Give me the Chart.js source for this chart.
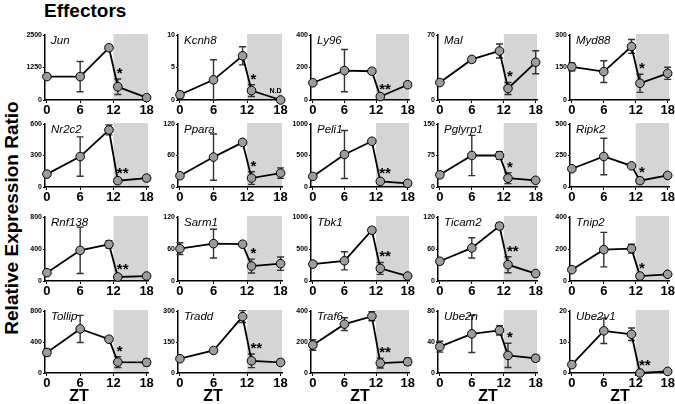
<!DOCTYPE html>
<html><head><meta charset="utf-8">
<script src="https://cdn.jsdelivr.net/npm/chart.js@4/dist/chart.umd.min.js"></script>
<style>
body{margin:0;width:675px;height:404px;position:relative;background:#fff;font-family:'Liberation Sans',Arial,sans-serif;overflow:hidden}
canvas{position:absolute}
.t{position:absolute;font-weight:bold;color:#000;white-space:nowrap;line-height:1}
</style></head><body>
<div class="t" style="left:44px;top:1px;font-size:19px">Effectors</div>
<div class="t" style="left:11px;top:218px;font-size:19px;transform:translate(-50%,-50%) rotate(-90deg)">Relative Expression Ratio</div>
<div id="root"></div>
<script>
// ---- data ----
const ZT = [0, 6, 11.2, 12.8, 18];
const X_TICKS = [0, 6, 12, 18];
const SHADE_FROM = 12;
const genes = ['Jun','Kcnh8','Ly96','Mal','Myd88',
               'Nr2c2','Ppara','Peli1','Pglyrp1','Ripk2',
               'Rnf138','Sarm1','Tbk1','Ticam2','Tnip2',
               'Tollip','Tradd','Traf6','Ube2n','Ube2v1'];
const meanValues = [
  [900, 900, 2010, 510, 90],
  [0.8, 3.1, 6.8, 1.45, 0],
  [106, 181, 177, 21, 94],
  [18.8, 43.7, 52.8, 12.4, 40.6],
  [153, 131, 247, 77, 123],
  [123, 290, 543, 60, 85],
  [21.5, 57, 85, 17, 26.5],
  [168, 516, 726, 89, 58],
  [29, 75, 75, 21, 16],
  [145, 242, 168, 50, 92],
  [104, 383, 458, 50, 62],
  [60.6, 70, 69, 28, 32.5],
  [264, 316, 793, 197, 78],
  [37, 62, 103, 30.6, 14],
  [71, 196, 202, 31, 42],
  [265, 569, 436, 141, 137],
  [69, 109, 273, 59, 51],
  [181, 315, 366, 64, 72],
  [34, 50.5, 55, 22.7, 19],
  [2.7, 13.6, 12.5, 0, 0.5]
];
const errValues = [
  [60, 580, 40, 300, 30],
  [0.5, 3.1, 1.4, 0.9, 0],
  [0, 130, 0, 0, 0],
  [0, 3, 7.5, 6.5, 12.4],
  [18, 50, 32, 42, 28],
  [0, 187, 47, 15, 25],
  [0, 44, 0, 12, 10],
  [0, 380, 0, 25, 0],
  [0, 48, 9, 13, 0],
  [17, 145, 0, 18, 20],
  [0, 290, 45, 0, 0],
  [11, 27, 0, 13, 12.5],
  [40, 142, 40, 93, 0],
  [5, 19, 6, 15, 0],
  [0, 108, 28, 0, 0],
  [43, 175, 10, 70, 43],
  [0, 14, 29, 33, 14],
  [34, 41, 29, 32, 23],
  [7, 24, 6, 15.6, 4],
  [0, 4.1, 2, 0, 0]
];
const yTickLabels = [
  [0,1250,2500],[0,5,10],[0,200,400],[0,70],[0,150,300],
  [0,300,600],[0,60,120],[0,500,1000],[0,75,150],[0,250,500],
  [0,400,800],[0,60,120],[0,500,1000],[0,60,120],[0,200,400],
  [0,400,800],[0,150,300],[0,200,400],[0,40,80],[0,10,20]
];
const stars = ['*','*','**','*','*','**','*','**','*','*','**','*','**','**','*','*','**','**','*','**'];
const notes = {Kcnh8: 'N.D'};

// ---- layout ----
const colLeft  = [45, 178, 311, 438, 570];
const colRight = [148, 282, 409, 537, 669];
const rowTop    = [35, 124, 217, 311];
const rowBottom = [100, 187, 281, 373];
const ztCenters = [79, 213, 360, 488, 620];
const AX_W = 30, AX_H = 20, PAD_T = 10, PAD_R = 6;
const FONT = "'Liberation Sans', Arial, sans-serif";

const panelPlugin = {
  id: 'panel',
  beforeDraw(chart, args, o) {
    const {ctx, chartArea:a, scales:{x}} = chart;
    const x0 = x.getPixelForValue(SHADE_FROM);
    ctx.save();
    ctx.fillStyle = '#d5d5d5';
    ctx.fillRect(x0, a.top - 1, a.right - x0, a.bottom - a.top + 1);
    ctx.restore();
  },
  beforeDatasetsDraw(chart, args, o) {
    const {ctx, scales:{x, y}} = chart;
    ctx.save();
    ctx.strokeStyle = '#333';
    ctx.lineWidth = 1.4;
    o.mean.forEach((m, i) => {
      const e = o.err[i];
      if (!e) return;
      const px = x.getPixelForValue(ZT[i]);
      const yt = y.getPixelForValue(m + e), yb = y.getPixelForValue(Math.max(0, m - e));
      ctx.beginPath();
      ctx.moveTo(px, yt); ctx.lineTo(px, yb);
      ctx.moveTo(px - 3.5, yt); ctx.lineTo(px + 3.5, yt);
      ctx.moveTo(px - 3.5, yb); ctx.lineTo(px + 3.5, yb);
      ctx.stroke();
    });
    ctx.restore();
  },
  afterDraw(chart, args, o) {
    const {ctx, chartArea:a, scales:{x, y}} = chart;
    ctx.save();
    ctx.fillStyle = '#000';
    ctx.font = 'italic 11.5px ' + FONT;
    ctx.textBaseline = 'alphabetic';
    ctx.textAlign = 'left';
    ctx.fillText(o.name, a.left + 6, a.top + 9);
    const i = 3;
    const px = x.getPixelForValue(ZT[i]);
    const up = Math.min(y.getPixelForValue(o.mean[i] + o.err[i]), y.getPixelForValue(o.mean[i]) - 2);
    ctx.font = 'bold 15px ' + FONT;
    ctx.fillText(o.star, px - 1, up - 1);
    if (o.note) {
      ctx.font = 'bold 7px ' + FONT;
      ctx.textAlign = 'center';
      ctx.fillText(o.note, x.getPixelForValue(18) - 5, y.getPixelForValue(o.mean[4]) - 7);
    }
    ctx.restore();
  }
};

const root = document.getElementById('root');
genes.forEach((g, k) => {
  const c = k % 5, r = Math.floor(k / 5);
  const w = AX_W + (colRight[c] - colLeft[c]) + PAD_R;
  const h = PAD_T + (rowBottom[r] - rowTop[r]) + AX_H;
  const cv = document.createElement('canvas');
  cv.width = w; cv.height = h;
  cv.style.left = (colLeft[c] - AX_W) + 'px';
  cv.style.top = (rowTop[r] - PAD_T) + 'px';
  cv.style.width = w + 'px'; cv.style.height = h + 'px';
  root.appendChild(cv);
  const yt = yTickLabels[k];
  new Chart(cv, {
    type: 'scatter',
    data: { datasets: [{
      data: ZT.map((t, i) => ({x: t, y: meanValues[k][i]})),
      showLine: true, borderColor: '#000', borderWidth: 1.8,
      pointRadius: 4.3, pointBackgroundColor: '#9c9c9c', pointBorderColor: '#000', pointBorderWidth: 1,
      clip: false
    }]},
    options: {
      responsive: false, animation: false, devicePixelRatio: 1,
      layout: { padding: { top: PAD_T, right: PAD_R, left: 0, bottom: 0 } },
      plugins: { legend: {display:false}, tooltip: {enabled:false},
        panel: { name: g, mean: meanValues[k], err: errValues[k], star: stars[k], note: notes[g] } },
      scales: {
        x: { type: 'linear', min: -0.35, max: 18.25,
          afterBuildTicks: s => { s.ticks = X_TICKS.map(v => ({value: v})); },
          afterFit: s => { s.height = AX_H; },
          ticks: { font: {size: 13, weight: 'bold', family: FONT}, color: '#000', padding: 0, maxRotation: 0, autoSkip: false, callback: v => String(v) },
          grid: { display: true, drawOnChartArea: false, drawTicks: true, tickLength: 3, color: '#000', lineWidth: 1 },
          border: { display: true, color: '#000', width: 1.5 }
        },
        y: { type: 'linear', min: 0, max: yt[yt.length - 1],
          afterBuildTicks: s => { s.ticks = yt.map(v => ({value: v})); },
          afterFit: s => { s.width = AX_W; },
          ticks: { font: {size: 7, weight: 'bold', family: FONT}, color: '#000', padding: 1, callback: v => String(v) },
          grid: { display: true, drawOnChartArea: false, drawTicks: true, tickLength: 2, color: '#000', lineWidth: 1 },
          border: { display: true, color: '#000', width: 1.5 }
        }
      }
    },
    plugins: [panelPlugin]
  });
});
ztCenters.forEach(cx => {
  const d = document.createElement('div');
  d.className = 't';
  d.style.cssText = 'left:' + cx + 'px;top:396px;font-size:16px;transform:translate(-50%,-50%)';
  d.textContent = 'ZT';
  document.body.appendChild(d);
});
</script>
</body></html>
